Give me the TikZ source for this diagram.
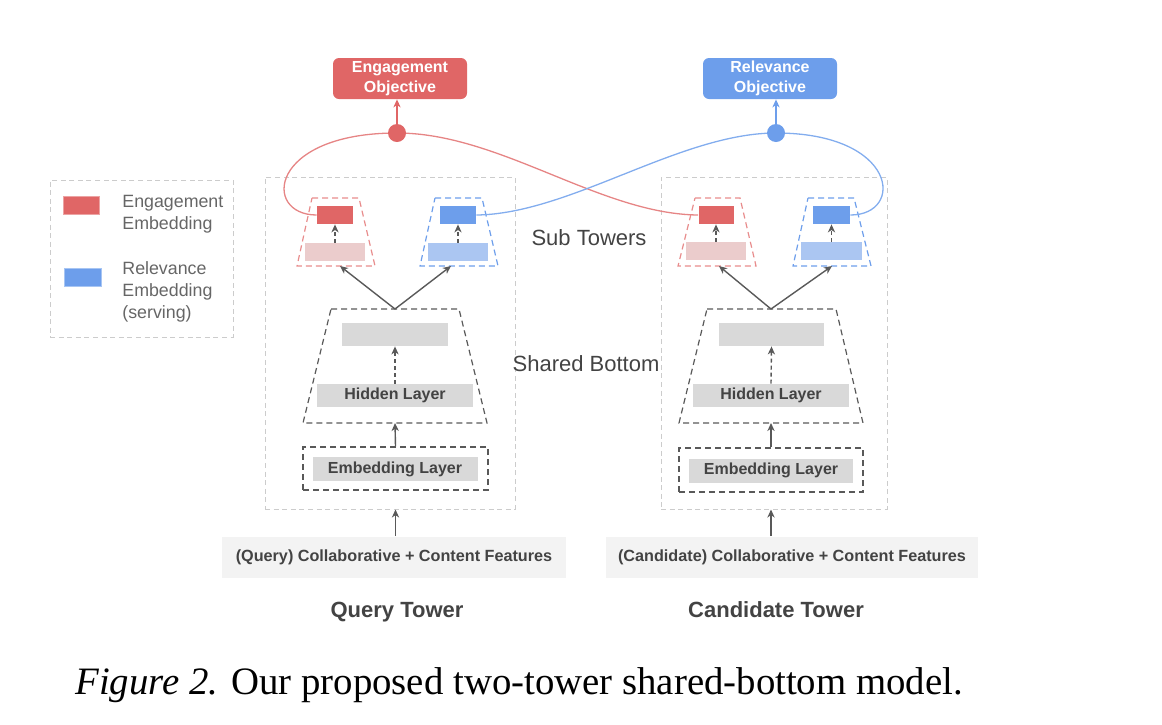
\documentclass[tikz,border=0pt]{standalone}
\usepackage{fontspec}
\setmainfont{Liberation Sans}
\newfontfamily\captionfont{Liberation Serif}
\usetikzlibrary{arrows.meta,calc,positioning}
\definecolor{engred}{HTML}{E06666}
\definecolor{engpale}{HTML}{EBCCCC}
\definecolor{relblue}{HTML}{6D9EEB}
\definecolor{relpale}{HTML}{ABC6F2}
\definecolor{layergray}{HTML}{D9D9D9}
\definecolor{featgray}{HTML}{F3F3F3}
\definecolor{darkline}{HTML}{595959}
\definecolor{lightline}{HTML}{CCCCCC}
\definecolor{textgray}{HTML}{434343}
\definecolor{legtext}{HTML}{666666}
\tikzset{
  objbox/.style={
    rounded corners=3pt,
    text=white,
    align=center,
    minimum width=67pt,
    minimum height=20.5pt,
    inner sep=0pt,
    font=\fontsize{8}{10}\selectfont\bfseries
  },
  embbox/.style={
    minimum width=18pt,
    minimum height=9pt,
    inner sep=0pt
  },
  layer/.style={
    fill=layergray,
    text=textgray,
    minimum height=11.5pt,
    inner sep=0pt,
    font=\fontsize{8}{9.6}\selectfont\bfseries
  },
  frame/.style={
    draw=darkline,
    dash pattern=on 3pt off 2pt,
    line width=0.6pt,
    inner sep=0pt
  },
  outer/.style={
    draw=lightline,
    dash pattern=on 2.5pt off 1.8pt,
    line width=0.5pt,
    inner sep=0pt
  },
  feat/.style={
    fill=featgray,
    text=textgray,
    minimum height=20.5pt,
    inner sep=0pt,
    font=\fontsize{8.1}{9.7}\selectfont\bfseries
  },
  dot/.style={
    circle,
    inner sep=0pt,
    minimum size=9pt
  },
  arrow/.style={
    -{Stealth[length=4pt,width=3.6pt,inset=1.2pt]},
    line width=0.7pt,
    darkline
  },
  dasharrow/.style={
    arrow,
    dash pattern=on 2pt off 1.5pt
  }
}

\begin{document}
\begin{tikzpicture}[x=0.5pt,y=-0.5pt]
\useasboundingbox (0,0) rectangle (1162,724);

% legend
\node[outer, minimum width=91.5pt, minimum height=78.5pt] (legBox) at (141.5,258.5) {};
\node[embbox, fill=engred, draw=engred!60!white, line width=0.4pt] (legEng) at (81,205) {};
\node[embbox, fill=relblue, draw=relblue!60!white, line width=0.4pt, minimum width=18.5pt] (legRel) at (82.5,277) {};
\node[anchor=west, align=left, inner sep=0pt, text=legtext, font=\fontsize{8.9}{11}\selectfont] (legEngTxt) at (122,214) {Engagement\\Embedding};
\node[anchor=west, align=left, inner sep=0pt, text=legtext, font=\fontsize{8.9}{11}\selectfont] (legRelTxt) at (122,292) {Relevance\\Embedding\\(serving)};

% objectives
\node[objbox, fill=engred] (eObj) at (400,78.5) {Engagement\\Objective};
\node[objbox, fill=relblue] (rObj) at (770,78.5) {Relevance\\Objective};
\coordinate (eC) at (397,133);
\coordinate (rC) at (776,133);

% query tower
\node[outer, minimum width=125pt, minimum height=166pt] (qOuter) at (390,343) {};
\draw[engred!75, dash pattern=on 3pt off 2pt, line width=0.6pt] (312,198) -- (359,198) -- (375,266) -- (297,266) -- cycle;
\draw[relblue, dash pattern=on 3pt off 2pt, line width=0.6pt] (435,198) -- (482,198) -- (498,266) -- (420,266) -- cycle;
\node[embbox, fill=engred] (qEng) at (335,215) {};
\node[embbox, fill=engpale, minimum width=30pt] (qEngLow) at (335,252) {};
\node[embbox, fill=relblue] (qRel) at (458,215) {};
\node[embbox, fill=relpale, minimum width=30pt] (qRelLow) at (458,252) {};
\draw[frame] (331,309) -- (459,309) -- (487,423) -- (303,423) -- cycle;
\coordinate (qShTop) at (395,309);
\coordinate (qShBot) at (395,423);
\coordinate (qRedBot) at (340,266);
\coordinate (qBlueBot) at (451,266);
\node[layer, minimum width=53pt] (qTop) at (395,334.5) {};
\node[layer, minimum width=78pt] (qHidden) at (395,395.5) {Hidden Layer};
\node[frame, minimum width=92.5pt, minimum height=21.5pt] (qEmbBox) at (395.5,468.5) {};
\node[layer, minimum width=82.5pt, minimum height=12pt] (qEmb) at (395,469) {Embedding Layer};
\node[feat, minimum width=172pt] (qFeat) at (394,557) {(Query) Collaborative + Content Features};
\node[anchor=base, inner sep=0pt, text=textgray, font=\fontsize{11}{13}\selectfont\bfseries] (qName) at (397,617) {Query Tower};

% candidate tower
\node[outer, minimum width=113pt, minimum height=166pt] (cOuter) at (774,343) {};
\draw[engred!75, dash pattern=on 3pt off 2pt, line width=0.6pt] (695,198) -- (740,198) -- (756,266) -- (678,266) -- cycle;
\draw[relblue, dash pattern=on 3pt off 2pt, line width=0.6pt] (808,198) -- (854,198) -- (871,266) -- (793,266) -- cycle;
\node[embbox, fill=engred, minimum width=17.5pt] (cEng) at (716,215) {};
\node[embbox, fill=engpale, minimum width=30pt] (cEngLow) at (716,251) {};
\node[embbox, fill=relblue, minimum width=18.5pt] (cRel) at (831.5,215) {};
\node[embbox, fill=relpale, minimum width=30.5pt] (cRelLow) at (831.5,251) {};
\draw[frame] (707,309) -- (836,309) -- (863,423) -- (679,423) -- cycle;
\coordinate (cShTop) at (771,309);
\coordinate (cShBot) at (771,423);
\coordinate (cRedBot) at (719,266);
\coordinate (cBlueBot) at (832,266);
\node[layer, minimum width=52.5pt] (cTop) at (771.5,334.5) {};
\node[layer, minimum width=78pt] (cHidden) at (771,395.5) {Hidden Layer};
\node[frame, minimum width=92pt, minimum height=22pt] (cEmbBox) at (771,470) {};
\node[layer, minimum width=82pt, minimum height=12pt] (cEmb) at (771,470.5) {Embedding Layer};
\node[feat, minimum width=186pt] (cFeat) at (792,557) {(Candidate) Collaborative + Content Features};
\node[anchor=base, inner sep=0pt, text=textgray, font=\fontsize{11}{13}\selectfont\bfseries] (cName) at (776,617) {Candidate Tower};

% side labels
\node[inner sep=0pt, text=textgray, font=\fontsize{11}{13}\selectfont] (subLbl) at (589,238) {Sub Towers};
\node[inner sep=0pt, text=textgray, font=\fontsize{11}{13}\selectfont] (shLbl) at (586,364) {Shared Bottom};

% objective curves
\draw[engred!80, line width=0.65pt] (qEng.west) .. controls (262,215) and (268,133) .. (eC) .. controls (500,133) and (600,214) .. (cEng.west);
\draw[relblue!85, line width=0.65pt] (qRel.east) .. controls (570,214) and (680,133) .. (rC) .. controls (898,133) and (905,215) .. (cRel.east);
\node[dot, fill=engred] (eDot) at (eC) {};
\node[dot, fill=relblue] (rDot) at (rC) {};
\draw[arrow, engred] (eDot.north) -- (eDot.north |- eObj.south);
\draw[arrow, relblue] (rDot.north) -- (rDot.north |- rObj.south);

% arrows
\draw[dasharrow] (qEngLow.north) -- (qEng.south);
\draw[dasharrow] (qRelLow.north) -- (qRel.south);
\draw[arrow] (qShTop) -- (qRedBot);
\draw[arrow] (qShTop) -- (qBlueBot);
\draw[dasharrow] (qHidden.north) -- (qTop.south);
\draw[arrow] (qEmbBox.north) -- (qShBot);
\draw[arrow] (qFeat.north -| qEmbBox.south) -- (qOuter.south -| qEmbBox.south);
\draw[dasharrow] (cEngLow.north) -- (cEng.south);
\draw[dasharrow] (cRelLow.north) -- (cRel.south);
\draw[arrow] (cShTop) -- (cRedBot);
\draw[arrow] (cShTop) -- (cBlueBot);
\draw[dasharrow] (cHidden.north) -- (cTop.south);
\draw[arrow] (cEmbBox.north) -- (cShBot);
\draw[arrow] (cFeat.north -| cEmbBox.south) -- (cOuter.south -| cEmbBox.south);

% caption
\node[anchor=base west, inner sep=0pt, font=\captionfont\fontsize{19.4}{22}\selectfont] (caption) at (75,694) {\textit{Figure 2.} Our proposed two-tower shared-bottom model.};
\end{tikzpicture}
\end{document}
